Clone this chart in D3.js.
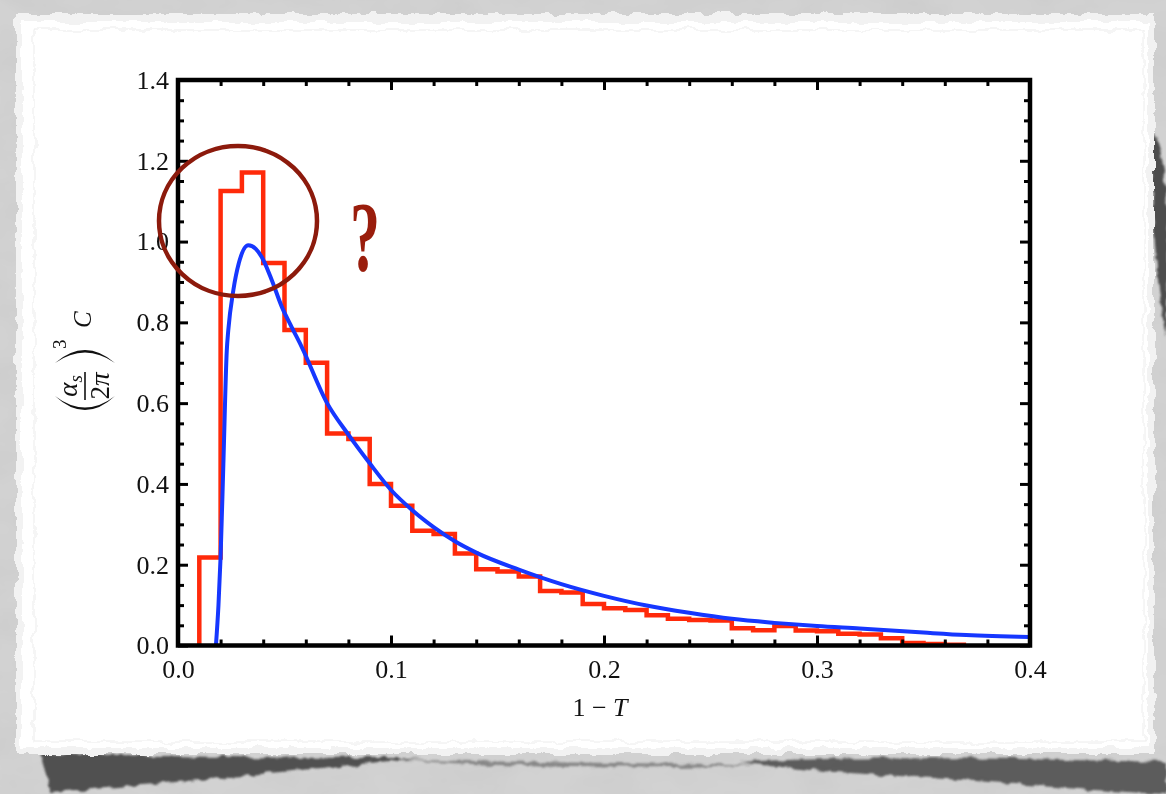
<!DOCTYPE html>
<html>
<head>
<meta charset="utf-8">
<script src="https://cdn.jsdelivr.net/npm/d3@7"></script>
<style>
  html, body { margin: 0; padding: 0; background: #cfcfcf; overflow: hidden; }
  svg { display: block; }
</style>
</head>
<body>
<svg id="chart" width="1166" height="794"></svg>
<script>
// ---- data -------------------------------------------------------------
// histogram: left edge of each 0.01-wide bin and its height
const binStarts = [0.01, 0.02, 0.03, 0.04, 0.05, 0.06, 0.07, 0.08, 0.09, 0.10,
                   0.11, 0.12, 0.13, 0.14, 0.15, 0.16, 0.17, 0.18, 0.19, 0.20,
                   0.21, 0.22, 0.23, 0.24, 0.25, 0.26, 0.27, 0.28, 0.29, 0.30,
                   0.31, 0.32, 0.33, 0.34, 0.35, 0.36];
const binValues = [0.218, 1.125, 1.171, 0.947, 0.781, 0.700, 0.525, 0.511, 0.400, 0.346,
                   0.284, 0.276, 0.228, 0.189, 0.183, 0.171, 0.135, 0.131, 0.103, 0.092,
                   0.088, 0.075, 0.066, 0.063, 0.062, 0.043, 0.038, 0.048, 0.037, 0.035,
                   0.029, 0.027, 0.018, 0.006, 0.004, 0.002];
const binWidth = 0.01;

// smooth prediction curve
const curveX = [0.0178, 0.0190, 0.0200, 0.0213, 0.0229, 0.0236, 0.0260, 0.0290, 0.0330, 0.0365,
                0.0393, 0.0440, 0.0487, 0.0533, 0.0580, 0.0700, 0.0800, 0.0900, 0.1000, 0.1100,
                0.1200, 0.1300, 0.1400, 0.1600, 0.1800, 0.2000, 0.2200, 0.2400, 0.2600, 0.2800,
                0.3000, 0.3200, 0.3500, 0.3700, 0.4000];
const curveY = [0.000, 0.100, 0.220, 0.450, 0.730, 0.780, 0.880, 0.955, 0.991, 0.982,
                0.962, 0.905, 0.839, 0.789, 0.740, 0.600, 0.522, 0.451, 0.385, 0.335,
                0.293, 0.258, 0.230, 0.188, 0.152, 0.123, 0.099, 0.081, 0.066, 0.056,
                0.048, 0.042, 0.032, 0.026, 0.021];

const xMajorTicks = [0.0, 0.1, 0.2, 0.3, 0.4];
const xTickLabels = ["0.0", "0.1", "0.2", "0.3", "0.4"];
const yMajorTicks = [0.0, 0.2, 0.4, 0.6, 0.8, 1.0, 1.2, 1.4];
const yTickLabels = ["0.0", "0.2", "0.4", "0.6", "0.8", "1.0", "1.2", "1.4"];

// ---- layout -----------------------------------------------------------
const W = 1166, H = 794;
const plot = { left: 178, right: 1030, top: 80, bottom: 645.5 };
const serif = '"Liberation Serif", "Times New Roman", serif';
const histColor = "#ff2a0a";
const curveColor = "#1637ff";
const markColor = "#8c1a0c";

const svg = d3.select("#chart");
const defs = svg.append("defs");

// paper texture / torn edge filters
const bgNoise = defs.append("filter").attr("id", "bgNoise")
  .attr("x", 0).attr("y", 0).attr("width", 1).attr("height", 1);
bgNoise.append("feTurbulence").attr("type", "fractalNoise")
  .attr("baseFrequency", "0.015 0.025").attr("numOctaves", 4).attr("seed", 7);
bgNoise.append("feColorMatrix").attr("type", "matrix")
  .attr("values", "0 0 0 0 0.45  0 0 0 0 0.45  0 0 0 0 0.45  0 0 0 0.3 -0.1");

const torn = defs.append("filter").attr("id", "torn")
  .attr("x", -0.05).attr("y", -0.05).attr("width", 1.1).attr("height", 1.1);
torn.append("feTurbulence").attr("type", "fractalNoise")
  .attr("baseFrequency", 0.06).attr("numOctaves", 4).attr("seed", 3).attr("result", "t");
torn.append("feDisplacementMap").attr("in", "SourceGraphic").attr("in2", "t")
  .attr("scale", 9).attr("xChannelSelector", "R").attr("yChannelSelector", "G");

const shadowBlur = defs.append("filter").attr("id", "shadowBlur")
  .attr("x", -0.2).attr("y", -0.5).attr("width", 1.4).attr("height", 2);
shadowBlur.append("feTurbulence").attr("type", "fractalNoise")
  .attr("baseFrequency", 0.08).attr("numOctaves", 3).attr("seed", 11).attr("result", "t");
shadowBlur.append("feDisplacementMap").attr("in", "SourceGraphic").attr("in2", "t")
  .attr("scale", 7).attr("xChannelSelector", "R").attr("yChannelSelector", "G").attr("result", "d");
shadowBlur.append("feGaussianBlur").attr("in", "d").attr("stdDeviation", 1.2);

// ---- background -------------------------------------------------------
svg.append("rect").attr("width", W).attr("height", H).attr("fill", "#d2d2d2");
svg.append("rect").attr("width", W).attr("height", H).attr("filter", "url(#bgNoise)");

// shadows cast by the paper
const shadows = svg.append("g").attr("filter", "url(#shadowBlur)");
shadows.append("path").attr("fill", "#4a4a4a").attr("opacity", 0.95)
  .attr("d", "M40,752 C120,756 250,758 420,758 C300,770 160,785 50,792 Z");
shadows.append("path").attr("fill", "#4f4f4f").attr("opacity", 0.9)
  .attr("d", "M740,762 C850,756 1000,758 1166,762 L1166,794 C1100,792 1000,782 900,776 C830,772 780,768 740,762 Z");
shadows.append("path").attr("fill", "#6a6a6a").attr("opacity", 0.7)
  .attr("d", "M400,760 C550,762 650,764 760,764 C650,770 520,768 400,760 Z");
shadows.append("path").attr("fill", "#3e3e3e").attr("opacity", 0.9)
  .attr("d", "M1150,130 C1164,140 1172,200 1166,335 C1158,300 1152,220 1150,130 Z");

// the torn sheet
const sheet = svg.append("g").attr("filter", "url(#torn)");
sheet.append("rect").attr("x", 16).attr("y", 14).attr("width", 1138).attr("height", 740).attr("fill", "#f2f2f2");
sheet.append("rect").attr("x", 22).attr("y", 22).attr("width", 1126).attr("height", 726).attr("fill", "#ffffff");
sheet.append("rect").attr("x", 34).attr("y", 30).attr("width", 1110).attr("height", 712)
  .attr("fill", "none").attr("stroke", "#ececec").attr("stroke-width", 1);

// ---- scales -----------------------------------------------------------
const x = d3.scaleLinear().domain([0, 0.4]).range([plot.left, plot.right]);
const y = d3.scaleLinear().domain([0, 1.4]).range([plot.bottom, plot.top]);

defs.append("clipPath").attr("id", "plotClip").append("rect")
  .attr("x", plot.left).attr("y", plot.top)
  .attr("width", plot.right - plot.left).attr("height", plot.bottom - plot.top);

// ---- data marks -------------------------------------------------------
const stepPoints = [[binStarts[0], 0]]
  .concat(binStarts.map((s, i) => [s, binValues[i]]))
  .concat([[binStarts[binStarts.length - 1] + binWidth, binValues[binValues.length - 1]]]);

const marks = svg.append("g").attr("clip-path", "url(#plotClip)");

marks.append("path")
  .datum(stepPoints)
  .attr("fill", "none").attr("stroke", histColor).attr("stroke-width", 4.5)
  .attr("stroke-linejoin", "miter")
  .attr("d", d3.line().x(d => x(d[0])).y(d => y(d[1])).curve(d3.curveStepAfter));

marks.append("path")
  .datum(curveX.map((v, i) => [v, curveY[i]]))
  .attr("fill", "none").attr("stroke", curveColor).attr("stroke-width", 4)
  .attr("stroke-linecap", "round")
  .attr("d", d3.line().x(d => x(d[0])).y(d => y(d[1])).curve(d3.curveMonotoneX));

// ---- axes (ticks point inward on all four sides) ----------------------
const xMinor = d3.range(0, 0.4001, 0.02).filter(v => Math.abs(v * 10 - Math.round(v * 10)) > 1e-6);
const yMinor = d3.range(0, 1.4001, 0.05).filter(v => Math.abs(v * 5 - Math.round(v * 5)) > 1e-6);

function styleAxis(g) {
  g.attr("font-family", serif).attr("font-size", 26);
  g.select(".domain").remove();
  g.selectAll(".tick line").attr("stroke", "#000").attr("stroke-width", 3);
  g.selectAll(".tick text").attr("fill", "#111");
}

svg.append("g").attr("transform", `translate(0,${plot.bottom})`)
  .call(d3.axisBottom(x).tickValues(xMajorTicks).tickSize(-10).tickPadding(14)
        .tickFormat((d, i) => xTickLabels[i]))
  .call(styleAxis);
svg.append("g").attr("transform", `translate(0,${plot.bottom})`)
  .call(d3.axisBottom(x).tickValues(xMinor).tickSize(-6).tickFormat(""))
  .call(styleAxis);
svg.append("g").attr("transform", `translate(0,${plot.top})`)
  .call(d3.axisTop(x).tickValues(xMajorTicks).tickSize(-10).tickFormat(""))
  .call(styleAxis);
svg.append("g").attr("transform", `translate(0,${plot.top})`)
  .call(d3.axisTop(x).tickValues(xMinor).tickSize(-6).tickFormat(""))
  .call(styleAxis);

svg.append("g").attr("transform", `translate(${plot.left},0)`)
  .call(d3.axisLeft(y).tickValues(yMajorTicks).tickSize(-10).tickPadding(9)
        .tickFormat((d, i) => yTickLabels[i]))
  .call(styleAxis);
svg.append("g").attr("transform", `translate(${plot.left},0)`)
  .call(d3.axisLeft(y).tickValues(yMinor).tickSize(-6).tickFormat(""))
  .call(styleAxis);
svg.append("g").attr("transform", `translate(${plot.right},0)`)
  .call(d3.axisRight(y).tickValues(yMajorTicks).tickSize(-10).tickFormat(""))
  .call(styleAxis);
svg.append("g").attr("transform", `translate(${plot.right},0)`)
  .call(d3.axisRight(y).tickValues(yMinor).tickSize(-6).tickFormat(""))
  .call(styleAxis);

// frame
svg.append("rect")
  .attr("x", plot.left).attr("y", plot.top)
  .attr("width", plot.right - plot.left).attr("height", plot.bottom - plot.top)
  .attr("fill", "none").attr("stroke", "#000").attr("stroke-width", 4.5);

// ---- axis titles ------------------------------------------------------
const xTitle = svg.append("text")
  .attr("x", (plot.left + plot.right) / 2 - 4).attr("y", 716)
  .attr("text-anchor", "middle").attr("font-family", serif).attr("font-size", 26).attr("fill", "#111");
xTitle.append("tspan").text("1 \u2212 ");
xTitle.append("tspan").attr("font-style", "italic").text("T");

// (alpha_s / 2 pi)^3 C, set vertically; local +x runs up the page, local +y runs right
const yTitle = svg.append("g")
  .attr("transform", "translate(85,364) rotate(-90)")
  .attr("font-family", serif).attr("fill", "#111");
yTitle.append("path").attr("fill", "#111")
  .attr("d", "M-32,-30 Q-60,0 -32,30 Q-55,0 -32,-30 Z");
yTitle.append("path").attr("fill", "#111")
  .attr("d", "M1,-30 Q27,0 1,30 Q22,0 1,-30 Z");
yTitle.append("line").attr("x1", -36).attr("x2", -8).attr("y1", 0).attr("y2", 0)
  .attr("stroke", "#111").attr("stroke-width", 1.6);
const num = yTitle.append("text").attr("x", -22).attr("y", -8)
  .attr("text-anchor", "middle").attr("font-size", 27).attr("font-style", "italic");
num.append("tspan").text("\u03b1");
num.append("tspan").attr("font-size", 19).attr("dy", 5).text("s");
const den = yTitle.append("text").attr("x", -22).attr("y", 24)
  .attr("text-anchor", "middle").attr("font-size", 27);
den.append("tspan").text("2");
den.append("tspan").attr("font-style", "italic").text("\u03c0");
yTitle.append("text").attr("x", 15).attr("y", -19).attr("font-size", 19).text("3");
yTitle.append("text").attr("x", 36).attr("y", 6).attr("font-size", 25).attr("font-style", "italic").text("C");

// ---- annotation -------------------------------------------------------
svg.append("ellipse")
  .attr("cx", 238).attr("cy", 221).attr("rx", 79).attr("ry", 75)
  .attr("fill", "none").attr("stroke", markColor).attr("stroke-width", 4.5);
svg.append("g").attr("transform", "translate(365,270) scale(0.6,1)")
  .append("text").attr("text-anchor", "middle")
  .attr("font-family", serif).attr("font-weight", "bold").attr("font-size", 100)
  .attr("fill", "#9a1d0c").text("?");
</script>
</body>
</html>
